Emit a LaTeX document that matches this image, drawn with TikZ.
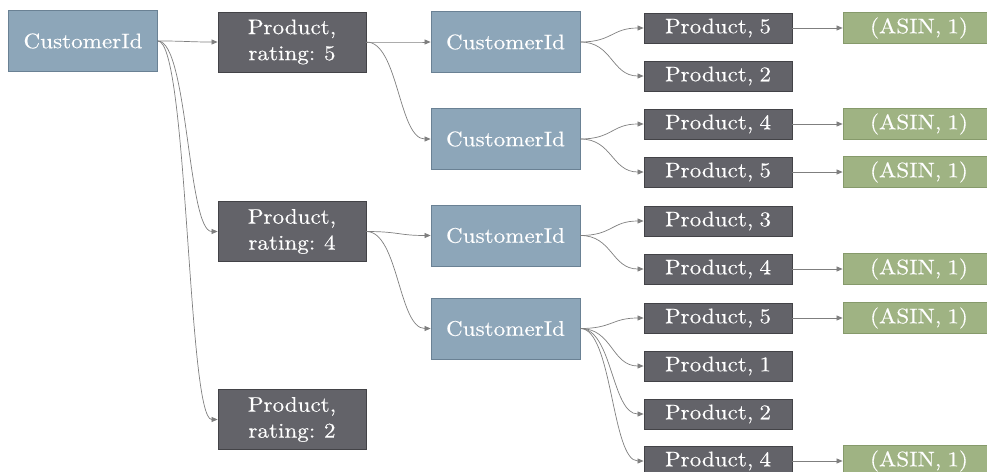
\documentclass[tikz,border=0pt]{standalone}
\usepackage{fontspec}
\setmainfont{lmroman10-regular.otf}[FakeStretch=1.1, FakeBold=0.3, WordSpace=0.8]
\usetikzlibrary{arrows.meta}
\definecolor{custfill}{HTML}{8DA6B9}
\definecolor{custdraw}{HTML}{6A8194}
\definecolor{prodfill}{HTML}{636369}
\definecolor{proddraw}{HTML}{434347}
\definecolor{asinfill}{HTML}{9FB383}
\definecolor{asindraw}{HTML}{869A6B}
\definecolor{connc}{HTML}{7F7F7F}
\newcommand\cc[3]{\draw[conn] (#1.east) .. controls +(#3,0) and +(-#3,0) .. (#2.west);}
\begin{document}
\begin{tikzpicture}[x=1pt,y=-1pt,
  box/.style={draw, line width=0.8pt, inner sep=0pt, text=white,
    font=\fontsize{21}{26}\selectfont, align=center},
  cust/.style={box, fill=custfill, draw=custdraw, minimum width=149pt, minimum height=61pt},
  rate/.style={box, fill=prodfill, draw=proddraw, minimum width=148pt, minimum height=60pt},
  prod/.style={box, fill=prodfill, draw=proddraw, minimum width=148pt, minimum height=30pt},
  asin/.style={box, fill=asinfill, draw=asindraw, minimum width=152pt, minimum height=31pt},
  conn/.style={draw=connc, line width=0.7pt, -{Triangle[length=6pt,width=5pt]}}]
\useasboundingbox (0,0) rectangle (987,471);
\clip (0,0) rectangle (987,471);
% column 1
\node[cust] (root) at (83,41) {CustomerId};
% column 2
\node[rate] (r5) at (292,42) {Product,\\rating: 5};
\node[rate] (r4) at (292,231.5) {Product,\\rating: 4};
\node[rate] (r2) at (292,419.5) {Product,\\rating: 2};
% column 3
\node[cust] (c1) at (505.5,42) {CustomerId};
\node[cust] (c2) at (505.5,139) {CustomerId};
\node[cust] (c3) at (505.5,235.5) {CustomerId};
\node[cust] (c4) at (505.5,328.5) {CustomerId};
% column 4
\node[prod] (p0) at (718,28) {Product, 5};
\node[prod] (p1) at (718,76) {Product, 2};
\node[prod] (p2) at (718,124) {Product, 4};
\node[prod] (p3) at (718,172) {Product, 5};
\node[prod] (p4) at (718,221) {Product, 3};
\node[prod] (p5) at (718,269) {Product, 4};
\node[prod] (p6) at (718,318) {Product, 5};
\node[prod] (p7) at (718,366) {Product, 1};
\node[prod] (p8) at (718,414) {Product, 2};
\node[prod] (p9) at (718,461) {Product, 4};
% column 5
\node[asin] (a0) at (919,28) {(ASIN, 1)};
\node[asin] (a2) at (919,124) {(ASIN, 1)};
\node[asin] (a3) at (919,172) {(ASIN, 1)};
\node[asin] (a5) at (919,269) {(ASIN, 1)};
\node[asin] (a6) at (919,318) {(ASIN, 1)};
\node[asin] (a9) at (919,461) {(ASIN, 1)};
% connectors
\cc{root}{r5}{30}
\cc{root}{r4}{30}
\cc{root}{r2}{30}
\cc{r5}{c1}{32}
\cc{r5}{c2}{32}
\cc{r4}{c3}{32}
\cc{r4}{c4}{32}
\cc{c1}{p0}{32}
\cc{c1}{p1}{32}
\cc{c2}{p2}{32}
\cc{c2}{p3}{32}
\cc{c3}{p4}{32}
\cc{c3}{p5}{32}
\cc{c4}{p6}{32}
\cc{c4}{p7}{32}
\cc{c4}{p8}{32}
\cc{c4}{p9}{32}
\draw[conn] (p0) -- (a0);
\draw[conn] (p2) -- (a2);
\draw[conn] (p3) -- (a3);
\draw[conn] (p5) -- (a5);
\draw[conn] (p6) -- (a6);
\draw[conn] (p9) -- (a9);
\end{tikzpicture}
\end{document}
